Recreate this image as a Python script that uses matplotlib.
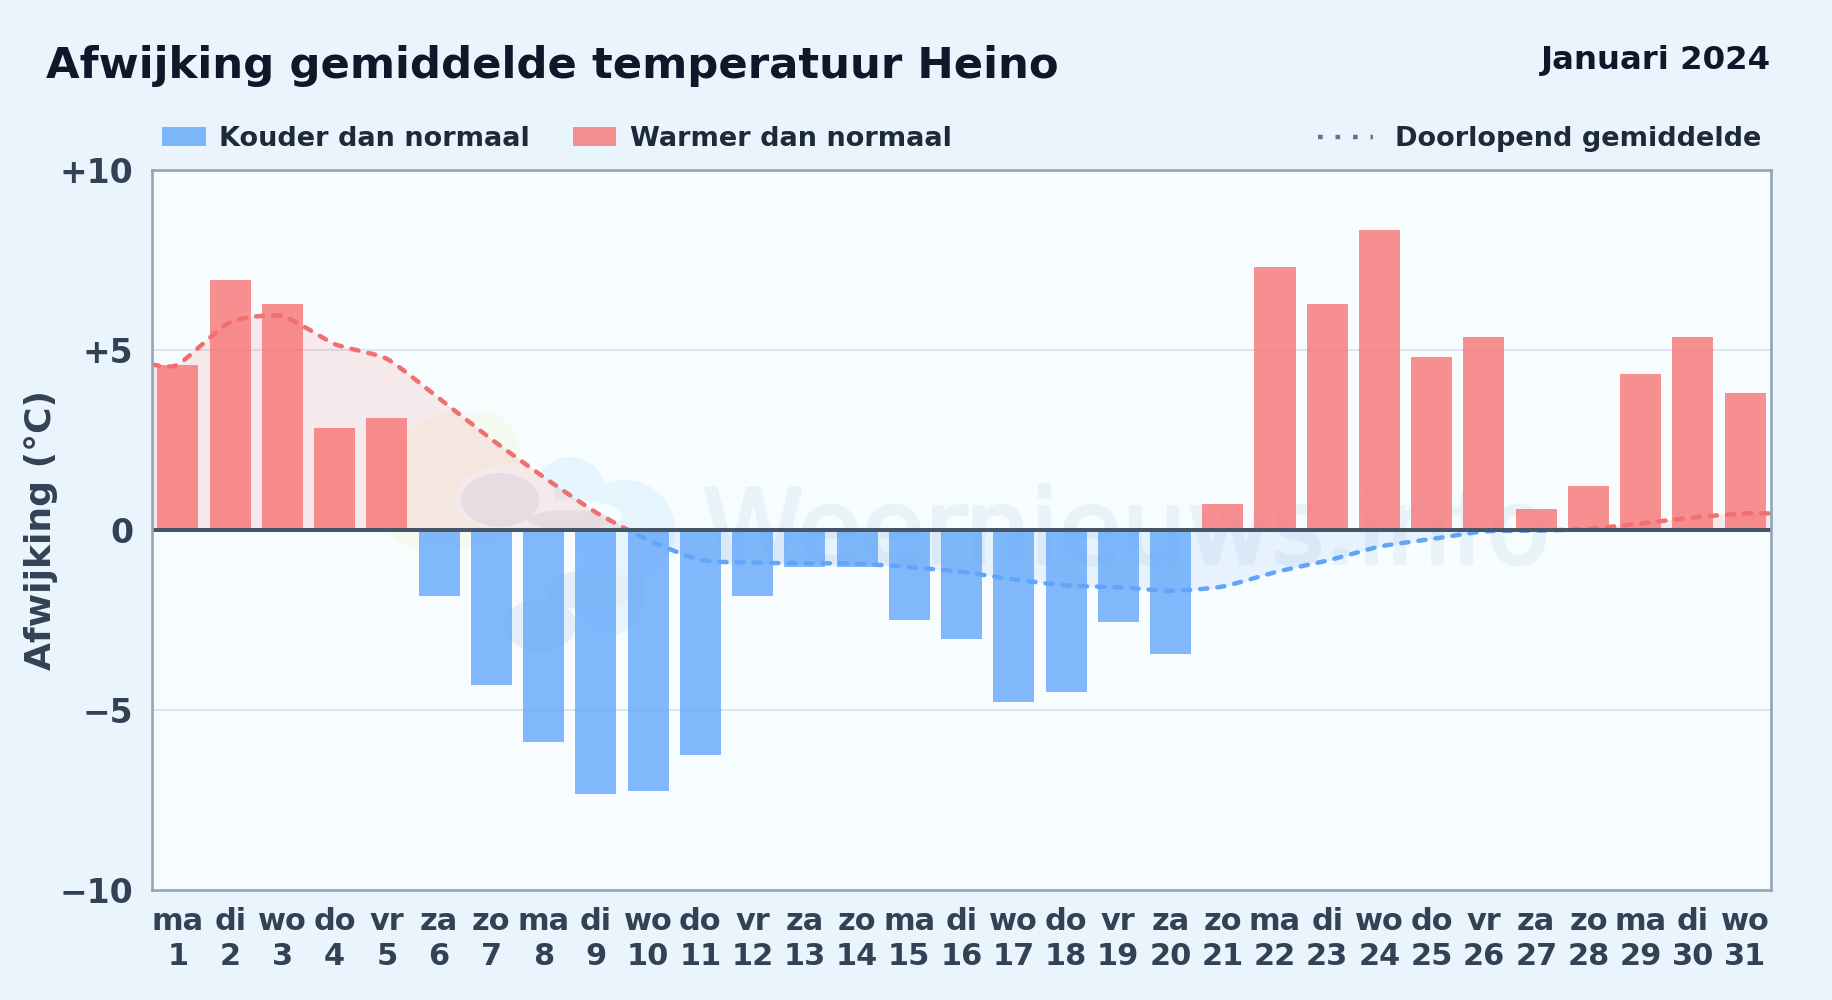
import numpy as np
import matplotlib
matplotlib.use("Agg")
import matplotlib.pyplot as plt
import matplotlib.patheffects as pe
from matplotlib.patches import Ellipse, Rectangle
from matplotlib.lines import Line2D
from matplotlib.transforms import IdentityTransform

weekdays = ["ma", "di", "wo", "do", "vr", "za", "zo"] * 4 + ["ma", "di", "wo"]
days = list(range(1, 32))
afwijking = [4.59, 6.95, 6.27, 2.84, 3.10, -1.83, -4.30, -5.88, -7.34, -7.24, -6.24,
             -1.83, -1.02, -1.02, -2.51, -3.03, -4.78, -4.49, -2.54, -3.45, 0.71,
             7.31, 6.26, 8.33, 4.81, 5.35, 0.57, 1.23, 4.34, 5.35, 3.79]
doorlopend = [4.59, 5.77, 5.94, 5.16, 4.75, 3.65, 2.52, 1.47, 0.49, -0.28, -0.83,
              -0.91, -0.92, -0.93, -1.03, -1.16, -1.37, -1.54, -1.59, -1.69, -1.57,
              -1.17, -0.85, -0.46, -0.25, -0.04, -0.02, 0.03, 0.18, 0.35, 0.46]
y_ticks = [-10, -5, 0, 5, 10]
y_tick_labels = ["\u221210", "\u22125", "0", "+5", "+10"]

W, H = 1832, 1000
RED = "#f87171"
BLUE = "#60a5fa"
BG = "#e9f4fc"
PLOT_BG = "#f7fcff"
WATERMARK = "#e8f2f9"

plt.rcParams["font.family"] = "DejaVu Sans"
plt.rcParams["font.weight"] = "bold"
plt.rcParams["lines.scale_dashes"] = False


def px(x, y):
    # pixels van linksboven naar figuurcoordinaten
    return x / W, 1 - y / H


def smooth(x, y, t=0.1, n=16):
    # bezier door de punten, kleine tension
    xs, ys = [], []
    for i in range(len(x) - 1):
        p0 = np.array([x[max(i - 1, 0)], y[max(i - 1, 0)]])
        p1 = np.array([x[i], y[i]])
        p2 = np.array([x[i + 1], y[i + 1]])
        p3 = np.array([x[min(i + 2, len(x) - 1)], y[min(i + 2, len(x) - 1)]])
        c1 = p1 + t * (p2 - p0)
        c2 = p2 - t * (p3 - p1)
        s = np.linspace(0, 1, n, endpoint=False)
        xs.extend((1 - s) ** 3 * p1[0] + 3 * (1 - s) ** 2 * s * c1[0] + 3 * (1 - s) * s ** 2 * c2[0] + s ** 3 * p2[0])
        ys.extend((1 - s) ** 3 * p1[1] + 3 * (1 - s) ** 2 * s * c1[1] + 3 * (1 - s) * s ** 2 * c2[1] + s ** 3 * p2[1])
    xs.append(x[-1])
    ys.append(y[-1])
    return np.array(xs), np.array(ys)


fig = plt.figure(figsize=(W / 100, H / 100), dpi=100, facecolor=BG)
ax = fig.add_axes([151.8 / W, 1 - 890.3 / H, (1771.3 - 151.8) / W, (890.3 - 169.7) / H])
ax.set_facecolor(PLOT_BG)
ax.set_xlim(0.5, 31.5)
ax.set_ylim(-10, 10)

# logo op de achtergrond, pixels van linksboven
logo = [
    (455, 480, 125, 135, "#f5faf1"),
    (420, 510, 75, 78, "#f5faf1"),
    (485, 455, 70, 85, "#f5faf1"),
    (470, 525, 100, 40, "#f5faf1"),
    (570, 492, 70, 70, "#e6f4fe"),
    (625, 530, 100, 100, "#e6f4fe"),
    (610, 590, 70, 90, "#e6f4fe"),
    (540, 625, 72, 52, "#e3eef7"),
    (590, 590, 90, 40, "#e3eef7"),
    (505, 498, 100, 66, PLOT_BG),
    (570, 515, 105, 30, PLOT_BG),
    (500, 500, 78, 54, "#e7eef4"),
    (570, 520, 85, 20, "#e7eef4"),
]
for cx, cy, w, h, c in logo:
    ax.add_patch(Ellipse((cx, H - cy), w, h, transform=IdentityTransform(), facecolor=c,
                         edgecolor="none", zorder=0.5))
ax.text(19.15, -0.92, "Weernieuws.info", color=WATERMARK, fontsize=74, fontweight="normal",
        ha="center", va="baseline", zorder=0.6,
        path_effects=[pe.withStroke(linewidth=2.5, foreground=WATERMARK)])

ax.grid(False)
for v in [-5, 5]:
    ax.axhline(v, color="#dfe5ec", lw=1.5, zorder=1)

# doorlopend gemiddelde, begin en eind vlak tot de rand
line_x = [0.5] + days + [31.5]
line_y = [doorlopend[0]] + doorlopend + [doorlopend[-1]]
sx, sy = smooth(line_x, line_y)
ax.fill_between(sx, sy, 0, where=sy >= 0, interpolate=True, color="#ef4444", alpha=0.1, lw=0, zorder=1.5)
ax.fill_between(sx, sy, 0, where=sy <= 0, interpolate=True, color="#3b82f6", alpha=0.08, lw=0, zorder=1.5)

colors = [RED if v >= 0 else BLUE for v in afwijking]
ax.bar(days, afwijking, width=0.785, color=colors, alpha=0.78, lw=0, zorder=2)

for c, y0, y1 in [("#f26f6f", 0, 10), (BLUE, -10, 0)]:
    ln, = ax.plot(sx, sy, color=c, lw=3.2, dashes=(5.2, 7.2), dash_capstyle="round", zorder=3)
    ln.set_clip_path(Rectangle((0.5, y0), 31, y1 - y0, transform=ax.transData))

ax.axhline(0, color="#475569", lw=2.9, zorder=4)

for s in ax.spines.values():
    s.set_color("#94a3b8")
    s.set_linewidth(1.9)
    s.set_zorder(5)

ax.set_yticks(y_ticks)
ax.set_yticklabels(y_tick_labels, fontsize=23.8, color="#334155")
ax.set_xticks(days)
ax.set_xticklabels([a + "\n" + str(b) for a, b in zip(weekdays, days)], fontsize=21.9, color="#334155",
                   linespacing=1.25)
ax.tick_params(axis="both", length=0)
ax.tick_params(axis="y", pad=13.5)
ax.tick_params(axis="x", pad=12)

# titels
x, y = px(46, 78)
fig.text(x, y, "Afwijking gemiddelde temperatuur Heino", fontsize=31.25, color="#0f172a", ha="left", va="baseline")
x, y = px(1770.5, 69.5)
fig.text(x, y, "Januari 2024", fontsize=23.3, color="#0f172a", ha="right", va="baseline")
x, y = px(41.5, 530)
fig.text(x, y, "Afwijking (\u00b0C)", fontsize=26, color="#334155", rotation=90, ha="center", va="center")

# legenda
for x0, x1, c in [(162, 206, BLUE), (573, 616, RED)]:
    x, y = px(x0, 146)
    fig.add_artist(Rectangle((x, y), (x1 - x0) / W, 19 / H, transform=fig.transFigure, facecolor=c,
                             alpha=0.78, edgecolor="none"))
for x0, lab in [(219, "Kouder dan normaal"), (630, "Warmer dan normaal"), (1395, "Doorlopend gemiddelde")]:
    x, y = px(x0, 145.7)
    fig.text(x, y, lab, fontsize=19.55, color="#1e293b", ha="left", va="baseline")
x0, y0 = px(1318, 137)
x1, _ = px(1373, 137)
fig.add_artist(Line2D([x0, x1], [y0, y0], transform=fig.transFigure, color="#64748b", lw=3.2,
                      dashes=(3.4, 9.2)))

fig.savefig("out.png", dpi=100, facecolor=BG)
